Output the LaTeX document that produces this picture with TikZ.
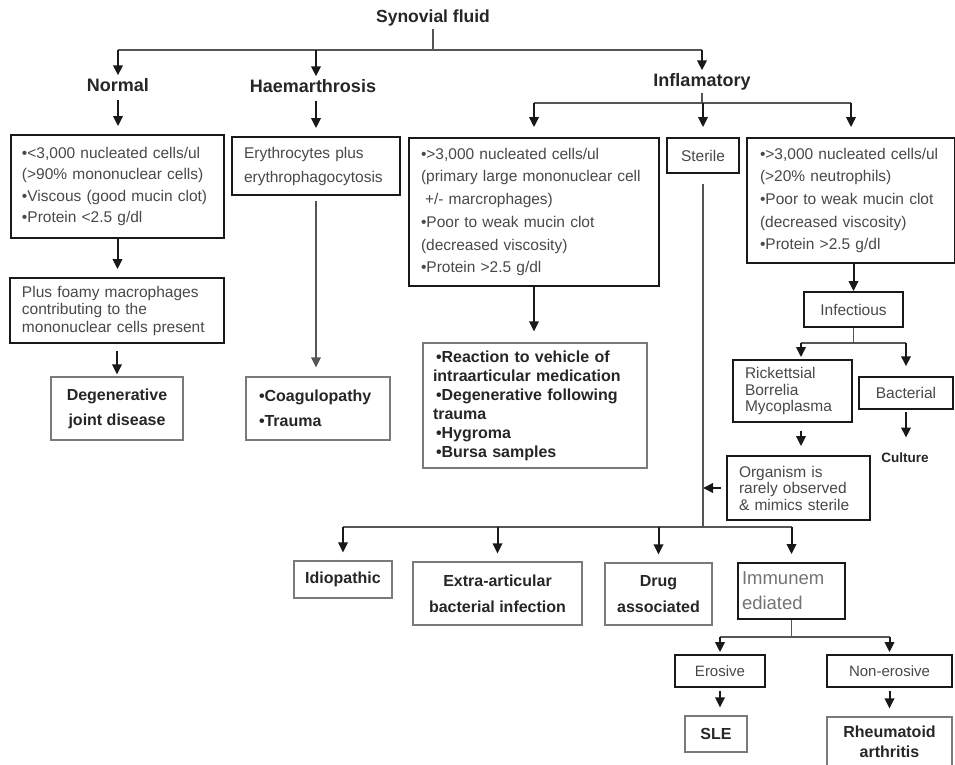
\documentclass[tikz,border=0pt]{standalone}
\usepackage{fontspec}
\setmainfont{Liberation Sans}
\usetikzlibrary{calc,arrows.meta}

\definecolor{txtgray}{HTML}{484848}
\definecolor{boxgray}{HTML}{7A7A7A}
\definecolor{linegray}{HTML}{555555}

\tikzset{
  >={Triangle[width=9.5bp,length=10bp]},
  hard/.style={draw=black!90,line width=1.8bp,rectangle,inner sep=0pt},
  soft/.style={draw=boxgray,line width=1.2bp,rectangle,inner sep=0pt},
  plain/.style={text=txtgray,font=\fontsize{15.5bp}{22.7bp}\selectfont},
  heavy/.style={text=black!85,font=\bfseries\fontsize{16bp}{25bp}\selectfont},
  heading/.style={text=black!85,font=\bfseries\fontsize{18bp}{20bp}\selectfont,text height=13bp,text depth=4bp,inner sep=2bp},
  link/.style={draw=linegray,line width=1.3bp},
  arr/.style={->,draw=black!90,line width=2bp},
  gap/.style={shorten >=8bp}
}

\begin{document}
\begin{tikzpicture}[x=1bp,y=-1bp]
\useasboundingbox (0,0) rectangle (955,765);

\draw node [heading,font=\bfseries\fontsize{17.5bp}{20bp}\selectfont] (syn) at (433,18) {Synovial fluid};
\draw node [heading] (normal) at (118,87) {Normal};
\draw node [heading] (haem) at (313,88) {Haemarthrosis};
\draw node [heading] (infl) at (702,82) {Inflamatory};

\draw node [hard,plain,minimum width=213bp,minimum height=103bp,text width=191bp,align=left,font=\fontsize{15.5bp}{21.5bp}\selectfont] (nbox) at (117.5,186.5)
  {•<3,000 nucleated cells/ul\\(>90\% mononuclear cells)\\•Viscous (good mucin clot)\\•Protein <2.5 g/dl};
\draw node [hard,plain,minimum width=168bp,minimum height=58bp,text width=144bp,align=left,font=\fontsize{15.5bp}{24bp}\selectfont] (hbox) at (316,166)
  {Erythrocytes plus\\erythrophagocytosis};
\draw node [hard,plain,minimum width=250bp,minimum height=148bp,text width=226bp,align=left] (mbox) at (534,212)
  {•>3,000 nucleated cells/ul\\(primary large mononuclear cell\\\hspace*{4bp}+/- marcrophages)\\•Poor to weak mucin clot\\(decreased viscosity)\\•Protein >2.5 g/dl};
\draw node [hard,plain,minimum width=72bp,minimum height=35bp] (sterile) at (703,155.5) {Sterile};
\draw node [hard,plain,minimum width=208bp,minimum height=125bp,text width=182bp,align=left] (rbox) at (851,200.5)
  {•>3,000 nucleated cells/ul\\(>20\% neutrophils)\\•Poor to weak mucin clot\\(decreased viscosity)\\•Protein >2.5 g/dl};

\draw node [hard,plain,minimum width=214bp,minimum height=65bp,text width=190bp,align=left,font=\fontsize{15.5bp}{17.5bp}\selectfont] (foamy) at (117,310.5)
  {Plus foamy macrophages\\contributing to the\\mononuclear cells present};
\draw node [soft,heavy,minimum width=132bp,minimum height=63bp,align=center] (degen) at (117,408.5) {Degenerative\\joint disease};
\draw node [soft,heavy,minimum width=144bp,minimum height=63bp,text width=118bp,align=left] (coag) at (318,408.5) {•Coagulopathy\\•Trauma};
\draw node [soft,heavy,minimum width=224bp,minimum height=125bp,text width=204bp,align=left,font=\bfseries\fontsize{16bp}{19bp}\selectfont] (react) at (535,405.5)
  {\hspace*{3bp}•Reaction to vehicle of\\intraarticular medication\\\hspace*{3bp}•Degenerative following\\trauma\\\hspace*{3bp}•Hygroma\\\hspace*{3bp}•Bursa samples};

\draw node [hard,plain,minimum width=99bp,minimum height=35bp] (infect) at (853.5,309.5) {Infectious};
\draw node [hard,plain,minimum width=119bp,minimum height=62bp,text width=95bp,align=left,font=\fontsize{15.5bp}{16.5bp}\selectfont] (rick) at (792.5,391)
  {Rickettsial\\Borrelia\\Mycoplasma};
\draw node [hard,plain,line width=1.5bp,minimum width=94bp,minimum height=32bp] (bact) at (906,393) {Bacterial};
\draw node [heavy,font=\bfseries\fontsize{13.5bp}{16bp}\selectfont] (culture) at (905,458) {Culture};
\draw node [hard,plain,minimum width=143bp,minimum height=64bp,text width=119bp,align=left,font=\fontsize{15.5bp}{16.5bp}\selectfont] (organism) at (798.5,488)
  {Organism is\\rarely observed\\\& mimics sterile};

\draw node [soft,heavy,minimum width=98bp,minimum height=37bp] (idio) at (343,579.5) {Idiopathic};
\draw node [soft,heavy,minimum width=169bp,minimum height=63bp,align=center,font=\bfseries\fontsize{16bp}{26bp}\selectfont] (extra) at (497.5,593.5) {Extra-articular\\bacterial infection};
\draw node [soft,heavy,minimum width=107bp,minimum height=62bp,align=center,font=\bfseries\fontsize{16bp}{26bp}\selectfont] (drug) at (658.5,594) {Drug\\associated};
\draw node [hard,minimum width=107bp,minimum height=56bp,text width=99bp,align=left,text=black!55,font=\fontsize{18.5bp}{25bp}\selectfont] (immune) at (791.5,591) {Immunem\\ediated};
\draw node [hard,plain,font=\fontsize{15bp}{18bp}\selectfont,minimum width=90bp,minimum height=32bp] (erosive) at (720,671) {Erosive};
\draw node [hard,plain,font=\fontsize{15bp}{18bp}\selectfont,minimum width=125bp,minimum height=32bp] (noneros) at (889.5,671) {Non-erosive};
\draw node [soft,heavy,minimum width=62bp,minimum height=36bp] (sle) at (716,734) {SLE};
\draw node [soft,heavy,minimum width=125bp,minimum height=50bp,align=center,font=\bfseries\fontsize{16bp}{20bp}\selectfont] (rheum) at (889.5,742) {Rheumatoid\\arthritis};

\coordinate (topbar) at (433,50);
\coordinate (inflbar) at (702,103);
\coordinate (infbar) at (853.5,343);
\coordinate (sterbar) at (703,527);
\coordinate (immbar) at (791.5,637);

\draw[link] (syn) -- (topbar);
\draw[link] (normal |- topbar) -- (infl |- topbar);
\draw[arr,shorten >=1bp] (normal |- topbar) -- (normal);
\draw[arr,shorten >=1bp] (hbox |- topbar) -- (hbox |- haem.north);
\draw[arr,shorten >=1bp] (topbar -| infl) -- (infl);

\draw[arr,shorten <=2bp,gap] (normal) -- (normal |- nbox.north);
\draw[arr,shorten <=2bp,gap] (hbox |- haem.south) -- (hbox);
\draw[arr,gap] (nbox) -- (nbox |- foamy.north);
\draw[arr,shorten <=7bp,shorten >=2bp] (foamy) -- (foamy |- degen.north);
\draw[link,->,shorten <=5bp,shorten >=9bp] (hbox) -- (hbox |- coag.north);

\draw[link] (infl) -- (inflbar);
\draw[link] (mbox |- inflbar) -- (rbox |- inflbar);
\draw[arr,shorten >=10bp] (mbox |- inflbar) -- (mbox);
\draw[arr,shorten >=10bp] (inflbar -| sterile) -- (sterile);
\draw[arr,shorten >=10bp] (rbox |- inflbar) -- (rbox);
\draw[arr,shorten >=11bp] (mbox) -- (mbox |- react.north);

\draw[arr] (infect |- rbox.south) -- (infect);
\draw[link] (infect) -- (infbar);
\draw[link] ([xshift=8.5bp]rick.north |- infbar) -- (bact |- infbar);
\draw[arr,shorten >=2bp] ([xshift=8.5bp]rick.north |- infbar) -- ([xshift=8.5bp]rick.north);
\draw[arr,shorten >=10bp] (bact |- infbar) -- (bact);
\draw[arr,shorten <=8bp,shorten >=9bp] ([xshift=8.5bp]rick.south) -- ([xshift=8.5bp]rick.south |- organism.north);
\draw[arr,shorten <=2bp,shorten >=12bp] (bact) -- (bact |- culture.north);
\draw[arr,shorten <=5bp] (organism.west) -- (organism.west -| sterile);

\draw[link,shorten <=10bp] (sterile) -- (sterbar);
\draw[link] (idio |- sterbar) -- (immune |- sterbar);
\draw[arr,gap] (idio |- sterbar) -- (idio);
\draw[arr,gap] (extra |- sterbar) -- (extra);
\draw[arr,gap] (drug |- sterbar) -- (drug);
\draw[arr,gap] (immune |- sterbar) -- (immune);

\draw[link] (immune) -- (immbar);
\draw[link] (erosive |- immbar) -- (noneros |- immbar);
\draw[arr,shorten >=2bp] (erosive |- immbar) -- (erosive);
\draw[arr,shorten >=2bp] (noneros |- immbar) -- (noneros);
\draw[arr,shorten <=3bp,gap] (erosive) -- (erosive |- sle.north);
\draw[arr,shorten <=3bp,gap] (noneros) -- (noneros |- rheum.north);

\end{tikzpicture}
\end{document}
